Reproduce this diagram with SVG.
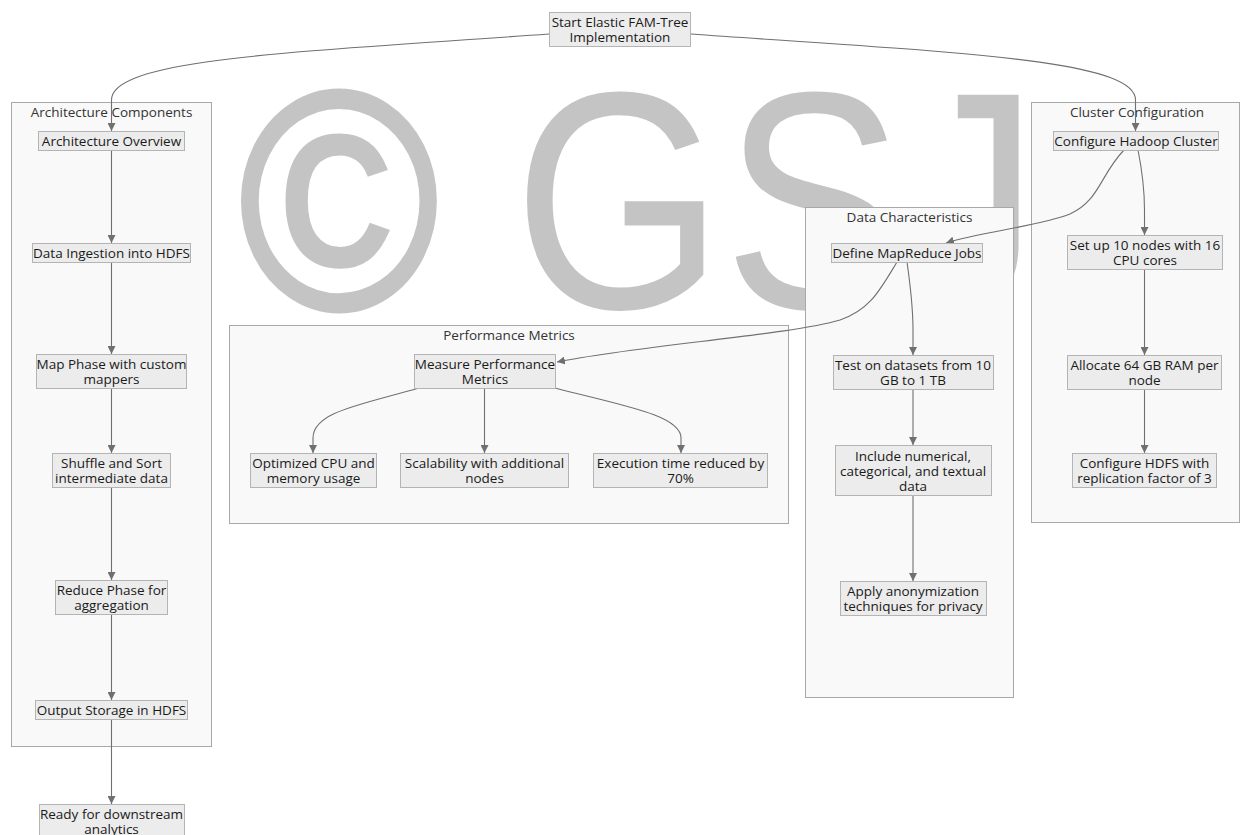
<svg xmlns="http://www.w3.org/2000/svg" width="1241" height="835" viewBox="0 0 1241 835">
<defs>
<style>
.wm{font-family:"Liberation Sans",Arial,sans-serif;font-size:310px;fill:#c4c4c4;}
.wmc{stroke:#c4c4c4;stroke-width:6px;}
.cl{fill:#f9f9f9;stroke:#a8a8a8;stroke-width:1;}
.ct{font-family:"Open Sans","Liberation Sans",sans-serif;font-size:13.5px;fill:#333;text-anchor:middle;}
.nd rect{fill:#ececec;stroke:#b4b4b4;stroke-width:1;}
.nd text{font-family:"Open Sans","Liberation Sans",sans-serif;font-size:13.5px;fill:#1a1a1a;text-anchor:middle;}
.ed path{fill:none;stroke:#707070;stroke-width:1.1;marker-end:url(#ah);}
</style>
<marker id="ah" viewBox="0 0 10 10" refX="10" refY="5" markerUnits="userSpaceOnUse" markerWidth="8" markerHeight="8" orient="auto">
<path d="M0,0 L10,5 L0,10 z" fill="#707070"/>
</marker>
</defs>
<rect width="1241" height="835" fill="#ffffff"/>
<text class="wm" x="275" y="308" transform="scale(0.871,1)"><tspan class="wmc">©</tspan> GSJ</text>

<g id="clusters">
<g id="cluster-arch"><rect class="cl" x="11.5" y="102.5" width="200" height="644"/><text class="ct" x="111.5" y="117">Architecture Components</text></g>
<g id="cluster-perf"><rect class="cl" x="229.5" y="325.5" width="559" height="198"/><text class="ct" x="509" y="340">Performance Metrics</text></g>
<g id="cluster-data"><rect class="cl" x="805.5" y="207.5" width="208" height="490"/><text class="ct" x="909.5" y="222">Data Characteristics</text></g>
<g id="cluster-conf"><rect class="cl" x="1031.5" y="102.5" width="208" height="420"/><text class="ct" x="1137" y="117">Cluster Configuration</text></g>
</g>

<g id="connectors" class="ed">
<path d="M549,34 C300,52 111.5,58 111.5,100 L111.5,131"/>
<path d="M691,34 C940,52 1135.5,58 1135.5,100 L1135.5,131"/>
<path d="M1124,150 C1100,175 1100,200 1070,214 C1040,226 980,232 946,243"/>
<path d="M1138,150 C1143,175 1144.5,190 1144.5,210 L1144.5,235"/>
<path d="M897,262 C880,290 870,310 840,320 C790,335 640,345 557,362"/>
<path d="M907,262 C911,290 913,310 913,330 L913,355"/>
<path d="M419,388 C360,405 313,412 313,438 L313,453"/>
<path d="M484.5,388 L484.5,453"/>
<path d="M555,388 C620,405 681,415 681,438 L681,453"/>
<path d="M111.5,150 L111.5,243"/>
<path d="M111.5,262 L111.5,354"/>
<path d="M111.5,388 L111.5,453"/>
<path d="M111.5,487 L111.5,580"/>
<path d="M111.5,614 L111.5,700"/>
<path d="M111.5,719 L111.5,804"/>
<path d="M913,389 L913,445"/>
<path d="M913,495 L913,581"/>
<path d="M1144.5,269 L1144.5,355"/>
<path d="M1144.5,389 L1144.5,453"/>
</g>

<g id="n-start" class="nd"><rect x="549.5" y="12.5" width="141" height="34"/><text x="620" y="26.5">Start Elastic FAM-Tree</text><text x="620" y="41.5">Implementation</text></g>
<g id="n-archov" class="nd"><rect x="38.5" y="131.5" width="146" height="19"/><text x="111.5" y="145.5">Architecture Overview</text></g>
<g id="n-ingest" class="nd"><rect x="32.5" y="243.5" width="158" height="19"/><text x="111.5" y="257.5">Data Ingestion into HDFS</text></g>
<g id="n-map" class="nd"><rect x="36.5" y="354.5" width="150" height="34"/><text x="111.5" y="369">Map Phase with custom</text><text x="111.5" y="384">mappers</text></g>
<g id="n-shuffle" class="nd"><rect x="52.5" y="453.5" width="118" height="34"/><text x="111.5" y="468">Shuffle and Sort</text><text x="111.5" y="483">intermediate data</text></g>
<g id="n-reduce" class="nd"><rect x="55.5" y="580.5" width="112" height="34"/><text x="111.5" y="595">Reduce Phase for</text><text x="111.5" y="610">aggregation</text></g>
<g id="n-output" class="nd"><rect x="35.5" y="700.5" width="152" height="19"/><text x="111.5" y="714.5">Output Storage in HDFS</text></g>
<g id="n-ready" class="nd"><rect x="39.5" y="804.5" width="145" height="34"/><text x="111.5" y="819">Ready for downstream</text><text x="111.5" y="834">analytics</text></g>
<g id="n-measure" class="nd"><rect x="414.5" y="354.5" width="141" height="34"/><text x="485" y="369">Measure Performance</text><text x="485" y="384">Metrics</text></g>
<g id="n-cpu" class="nd"><rect x="250.5" y="453.5" width="126" height="34"/><text x="313.5" y="468">Optimized CPU and</text><text x="313.5" y="483">memory usage</text></g>
<g id="n-scal" class="nd"><rect x="400.5" y="453.5" width="168" height="34"/><text x="484.5" y="468">Scalability with additional</text><text x="484.5" y="483">nodes</text></g>
<g id="n-exec" class="nd"><rect x="593.5" y="453.5" width="174" height="34"/><text x="680.5" y="468">Execution time reduced by</text><text x="680.5" y="483">70%</text></g>
<g id="n-define" class="nd"><rect x="831.5" y="243.5" width="151" height="19"/><text x="907" y="257.5">Define MapReduce Jobs</text></g>
<g id="n-test" class="nd"><rect x="833.5" y="355.5" width="160" height="34"/><text x="913" y="370">Test on datasets from 10</text><text x="913" y="385">GB to 1 TB</text></g>
<g id="n-include" class="nd"><rect x="835.5" y="445.5" width="156" height="50"/><text x="913" y="460.5">Include numerical,</text><text x="913" y="475.5">categorical, and textual</text><text x="913" y="490.5">data</text></g>
<g id="n-apply" class="nd"><rect x="840.5" y="581.5" width="146" height="34"/><text x="913" y="596">Apply anonymization</text><text x="913" y="611">techniques for privacy</text></g>
<g id="n-hadoop" class="nd"><rect x="1053.5" y="131.5" width="165" height="19"/><text x="1136" y="145.5">Configure Hadoop Cluster</text></g>
<g id="n-setup" class="nd"><rect x="1067.5" y="235.5" width="155" height="34"/><text x="1145" y="250">Set up 10 nodes with 16</text><text x="1145" y="265">CPU cores</text></g>
<g id="n-ram" class="nd"><rect x="1067.5" y="355.5" width="154" height="34"/><text x="1144.5" y="370">Allocate 64 GB RAM per</text><text x="1144.5" y="385">node</text></g>
<g id="n-hdfs" class="nd"><rect x="1072.5" y="453.5" width="144" height="34"/><text x="1144.5" y="468">Configure HDFS with</text><text x="1144.5" y="483">replication factor of 3</text></g>
</svg>
